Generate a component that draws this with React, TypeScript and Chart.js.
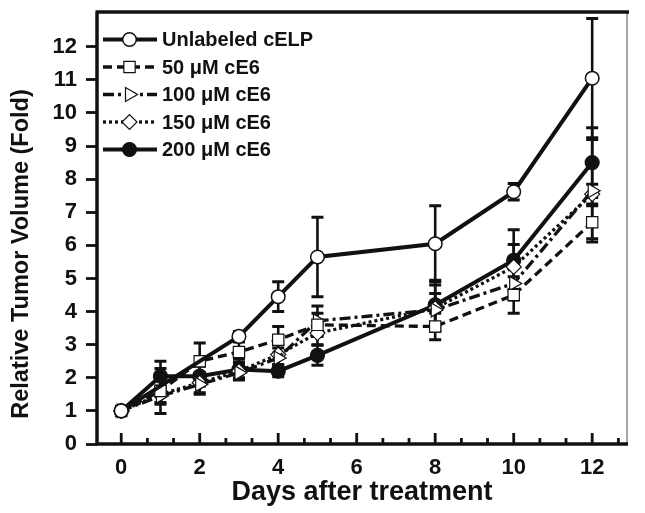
import React, { useEffect, useRef } from 'react';
import { Chart, registerables } from 'chart.js';

Chart.register(...registerables);

// ---- data ----
const days = [0, 1, 2, 3, 4, 5, 8, 10, 12];
const unlabeledDays = [0, 3, 4, 5, 8, 10, 12];
const unlabeled = [1.0, 3.25, 4.45, 5.65, 6.05, 7.62, 11.05];
const unlabeledErr = [0.05, 0.15, 0.45, 1.2, 1.15, 0.25, 1.8];
const ce6_50 = [1.0, 1.6, 2.5, 2.78, 3.15, 3.6, 3.55, 4.5, 6.7];
const ce6_50Err = [0.05, 0.68, 0.55, 0.3, 0.4, 0.35, 0.4, 0.55, 0.5];
const ce6_100 = [1.0, 1.45, 1.8, 2.15, 2.6, 3.72, 4.05, 4.85, 7.65];
const ce6_100Err = [0.05, 0.25, 0.3, 0.2, 0.3, 0.45, 0.5, 0.5, 1.55];
const ce6_150 = [1.0, 1.5, 1.85, 2.2, 2.7, 3.35, 4.1, 5.35, 7.55];
const ce6_150Err = [0.05, 0.25, 0.3, 0.2, 0.3, 0.35, 0.7, 0.68, 0.3];
const ce6_200 = [1.0, 2.05, 2.05, 2.25, 2.2, 2.68, 4.2, 5.55, 8.5];
const ce6_200Err = [0.05, 0.45, 0.3, 0.32, 0.17, 0.3, 0.75, 0.92, 1.05];

const seriesLabels = ['Unlabeled cELP', '50 \u03bcM cE6', '100 \u03bcM cE6', '150 \u03bcM cE6', '200 \u03bcM cE6'];
const xTickValues = [0, 2, 4, 6, 8, 10, 12];
const yTickValues = [0, 1, 2, 3, 4, 5, 6, 7, 8, 9, 10, 11, 12];
const xTitle = 'Days after treatment';
const yTitle = 'Relative Tumor Volume (Fold)';

const FONT = '"Liberation Sans", Arial, sans-serif';
const INK = '#111111';

function drawMarker(ctx: CanvasRenderingContext2D, style: string, x: number, y: number, r: number, rot: number, fill: string, stroke: string, lw: number) {
  ctx.save();
  ctx.beginPath();
  ctx.setLineDash([]);
  if (style === 'circle') {
    ctx.arc(x, y, r, 0, Math.PI * 2);
  } else if (style === 'rect') {
    const s = Math.SQRT1_2 * r;
    ctx.rect(x - s, y - s, 2 * s, 2 * s);
  } else if (style === 'rectRot') {
    ctx.moveTo(x - r, y);
    ctx.lineTo(x, y - r);
    ctx.lineTo(x + r, y);
    ctx.lineTo(x, y + r);
    ctx.closePath();
  } else if (style === 'triangle') {
    let a = (rot * Math.PI) / 180;
    ctx.moveTo(x + Math.sin(a) * r, y - Math.cos(a) * r);
    a += (2 * Math.PI) / 3;
    ctx.lineTo(x + Math.sin(a) * r, y - Math.cos(a) * r);
    a += (2 * Math.PI) / 3;
    ctx.lineTo(x + Math.sin(a) * r, y - Math.cos(a) * r);
    ctx.closePath();
  }
  ctx.fillStyle = fill;
  ctx.fill();
  ctx.lineWidth = lw;
  ctx.strokeStyle = stroke;
  ctx.stroke();
  ctx.restore();
}

const errorBarPlugin = {
  id: 'errorBars',
  beforeDatasetsDraw(chart: any) {
    const ctx = chart.ctx;
    const yScale = chart.scales.y;
    ctx.save();
    ctx.strokeStyle = INK;
    ctx.setLineDash([]);
    chart.data.datasets.forEach((ds: any, di: number) => {
      const meta = chart.getDatasetMeta(di);
      const errs: number[] = ds.errors || [];
      meta.data.forEach((pt: any, i: number) => {
        const v = ds.data[i].y;
        const e = errs[i] || 0;
        if (e < 0.08) return;
        const x = pt.x;
        const yt = yScale.getPixelForValue(v + e);
        const yb = yScale.getPixelForValue(v - e);
        ctx.lineWidth = 2.6;
        ctx.beginPath();
        ctx.moveTo(x, yt);
        ctx.lineTo(x, yb);
        ctx.stroke();
        ctx.lineWidth = 3;
        ctx.beginPath();
        ctx.moveTo(x - 6, yt);
        ctx.lineTo(x + 6, yt);
        ctx.moveTo(x - 6, yb);
        ctx.lineTo(x + 6, yb);
        ctx.stroke();
      });
    });
    ctx.restore();
  },
};

const framePlugin = {
  id: 'frameLegend',
  afterDraw(chart: any) {
    const ctx = chart.ctx as CanvasRenderingContext2D;
    const { left, right, top, bottom } = chart.chartArea;
    const xs = chart.scales.x;
    ctx.save();
    ctx.setLineDash([]);
    // right border (thin)
    ctx.strokeStyle = '#888';
    ctx.lineWidth = 1.5;
    ctx.beginPath();
    ctx.moveTo(right, top);
    ctx.lineTo(right, bottom);
    ctx.stroke();
    // left, top, bottom borders (thick)
    ctx.strokeStyle = INK;
    ctx.lineWidth = 3.5;
    ctx.beginPath();
    ctx.moveTo(left, bottom + 1.5);
    ctx.lineTo(left, top);
    ctx.moveTo(left - 1.5, top);
    ctx.lineTo(right + 2, top);
    ctx.moveTo(left - 1.5, bottom);
    ctx.lineTo(right + 1, bottom);
    ctx.stroke();
    // inward x ticks: major at even days, two minor between
    ctx.lineWidth = 2.8;
    for (let k = -1; k <= 20; k++) {
      const v = (k * 2) / 3;
      if (v < xs.min || v > xs.max) continue;
      const px = xs.getPixelForValue(v);
      const len = k % 3 === 0 ? 11 : 6;
      ctx.beginPath();
      ctx.moveTo(px, bottom);
      ctx.lineTo(px, bottom - len);
      ctx.stroke();
    }
    // y title
    ctx.save();
    ctx.translate(22, 254);
    ctx.rotate(-Math.PI / 2);
    ctx.fillStyle = INK;
    ctx.font = `bold 23.5px ${FONT}`;
    ctx.textAlign = 'center';
    ctx.textBaseline = 'middle';
    ctx.fillText(yTitle, 0, 0);
    ctx.restore();
    // legend
    const rows = [39.5, 67, 94.5, 122, 149.5];
    chart.data.datasets.forEach((ds: any, i: number) => {
      const y = rows[i];
      ctx.strokeStyle = INK;
      ctx.lineWidth = ds.borderWidth;
      ctx.setLineDash(ds.borderDash || []);
      ctx.beginPath();
      ctx.moveTo(103, y);
      ctx.lineTo(157, y);
      ctx.stroke();
      ctx.setLineDash([]);
      drawMarker(ctx, ds.pointStyle, 129.5, y, ds.pointRadius, ds.pointRotation || 0, ds.pointBackgroundColor, ds.pointBorderColor, ds.pointBorderWidth);
      ctx.fillStyle = INK;
      ctx.font = `bold 20px ${FONT}`;
      ctx.textAlign = 'left';
      ctx.textBaseline = 'middle';
      ctx.fillText(ds.label, 162, y + 1);
    });
    ctx.restore();
  },
};

function mkSeries(label: string, xs: number[], ys: number[], errs: number[], style: any) {
  return {
    label,
    data: xs.map((d, i) => ({ x: d, y: ys[i] })),
    errors: errs,
    borderColor: INK,
    pointBorderColor: INK,
    fill: false,
    tension: 0,
    ...style,
  };
}

export default function App() {
  const ref = useRef<HTMLCanvasElement | null>(null);
  useEffect(() => {
    if (!ref.current) return;
    const datasets: any[] = [
      mkSeries(seriesLabels[0], unlabeledDays, unlabeled, unlabeledErr, {
        borderWidth: 4, borderDash: [], pointStyle: 'circle', pointRadius: 6.8,
        pointBackgroundColor: '#ffffff', pointBorderWidth: 1.5,
      }),
      mkSeries(seriesLabels[1], days, ce6_50, ce6_50Err, {
        borderWidth: 3.3, borderDash: [9, 5], pointStyle: 'rect', pointRadius: 8,
        pointBackgroundColor: '#ffffff', pointBorderWidth: 1.2,
      }),
      mkSeries(seriesLabels[2], days, ce6_100, ce6_100Err, {
        borderWidth: 3.3, borderDash: [11, 4, 3, 4], pointStyle: 'triangle', pointRotation: 90, pointRadius: 8,
        pointBackgroundColor: '#ffffff', pointBorderWidth: 1.2,
      }),
      mkSeries(seriesLabels[3], days, ce6_150, ce6_150Err, {
        borderWidth: 3.3, borderDash: [3, 3], pointStyle: 'rectRot', pointRadius: 7.5,
        pointBackgroundColor: '#ffffff', pointBorderWidth: 1.2,
      }),
      mkSeries(seriesLabels[4], days, ce6_200, ce6_200Err, {
        borderWidth: 4, borderDash: [], pointStyle: 'circle', pointRadius: 7,
        pointBackgroundColor: INK, pointBorderWidth: 1.2,
      }),
    ];
    const chart = new Chart(ref.current, {
      type: 'line',
      data: { datasets },
      plugins: [errorBarPlugin, framePlugin],
      options: {
        animation: false,
        responsive: false,
        maintainAspectRatio: false,
        layout: { padding: { top: 12, right: 18, left: 0, bottom: 0 } },
        plugins: { legend: { display: false }, tooltip: { enabled: false } },
        scales: {
          x: {
            type: 'linear',
            min: -0.617,
            max: 12.887,
            afterBuildTicks: (s: any) => { s.ticks = xTickValues.map((v) => ({ value: v })); },
            afterFit: (s: any) => {
              s.height = 69;
              s.paddingLeft = 0; s.paddingRight = 0; s.paddingTop = 0; s.paddingBottom = 0;
            },
            grid: { display: false, drawTicks: false },
            border: { display: false },
            ticks: { color: INK, padding: 11, font: { family: FONT, size: 22, weight: 'bold' } },
            title: {
              display: true, text: xTitle, color: INK,
              font: { family: FONT, size: 27, weight: 'bold' },
              padding: { top: 0, bottom: 4 },
            },
          },
          y: {
            type: 'linear',
            min: 0,
            max: 13.05,
            afterBuildTicks: (s: any) => { s.ticks = yTickValues.map((v) => ({ value: v })); },
            afterFit: (s: any) => {
              s.width = 97;
              s.paddingLeft = 0; s.paddingRight = 0; s.paddingTop = 0; s.paddingBottom = 0;
            },
            grid: { drawOnChartArea: false, drawTicks: true, tickLength: 11, tickWidth: 2.8, tickColor: INK },
            border: { display: false },
            ticks: { color: INK, padding: 9, font: { family: FONT, size: 22, weight: 'bold' } },
          },
        },
      } as any,
    });
    return () => chart.destroy();
  }, []);
  return (
    <div style={{ position: 'absolute', left: 0, top: 0, width: 645, height: 513, background: '#fff' }}>
      <canvas ref={ref} width={645} height={513} style={{ display: 'block' }} />
    </div>
  );
}
